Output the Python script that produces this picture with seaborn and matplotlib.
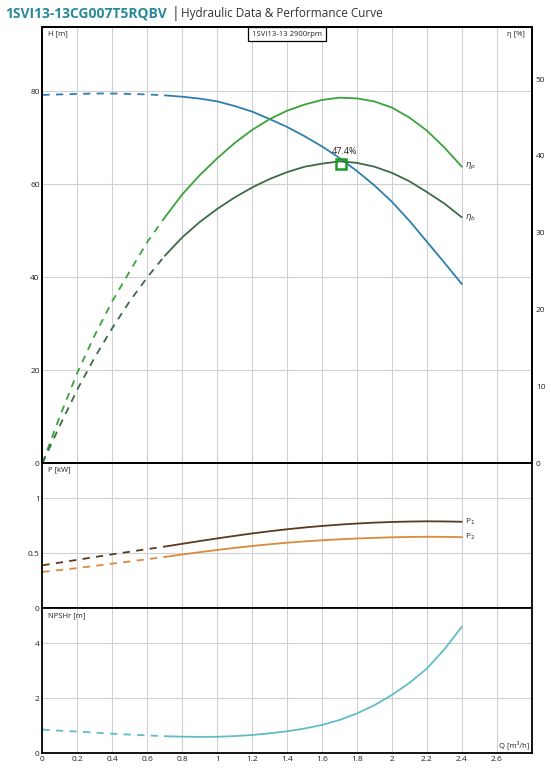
import numpy as np
import pandas as pd
import seaborn as sns
import matplotlib.pyplot as plt

# flow grid (m3/h), the curve is dashed below Q_SPLIT
Q = [0, 0.1, 0.2, 0.3, 0.4, 0.5, 0.6, 0.7, 0.8, 0.9, 1.0, 1.1, 1.2,
     1.3, 1.4, 1.5, 1.6, 1.7, 1.8, 1.9, 2.0, 2.1, 2.2, 2.3, 2.4]
Q_SPLIT = 0.7

head = [79.2, 79.3, 79.4, 79.5, 79.5, 79.4, 79.3, 79.1, 78.8, 78.4, 77.8, 76.8, 75.6,
        74.0, 72.3, 70.3, 68.1, 65.6, 62.8, 59.7, 56.2, 52.1, 47.6, 43.1, 38.5]
eta_p = [0, 6.1, 11.8, 16.7, 21.1, 25.0, 28.8, 32.0, 35.0, 37.5, 39.7, 41.7, 43.4,
         44.8, 45.9, 46.7, 47.3, 47.6, 47.5, 47.1, 46.3, 45.0, 43.3, 41.1, 38.6]
eta_b = [0, 4.9, 9.6, 13.8, 17.6, 21.1, 24.2, 27.0, 29.4, 31.4, 33.1, 34.6, 35.9,
         37.0, 37.9, 38.6, 39.0, 39.3, 39.1, 38.6, 37.8, 36.7, 35.3, 33.8, 32.0]
p1 = [0.39, 0.415, 0.44, 0.465, 0.49, 0.513, 0.537, 0.56, 0.585, 0.61, 0.634, 0.657, 0.679,
      0.699, 0.717, 0.733, 0.747, 0.759, 0.769, 0.777, 0.783, 0.787, 0.789, 0.788, 0.785]
p2 = [0.33, 0.347, 0.365, 0.385, 0.405, 0.425, 0.445, 0.466, 0.488, 0.509, 0.529, 0.548, 0.565,
      0.581, 0.595, 0.607, 0.617, 0.626, 0.633, 0.639, 0.644, 0.647, 0.649, 0.648, 0.645]
npsh = [0.86, 0.82, 0.79, 0.75, 0.71, 0.68, 0.65, 0.62, 0.605, 0.595, 0.60, 0.625, 0.665,
        0.725, 0.80, 0.90, 1.03, 1.21, 1.45, 1.75, 2.12, 2.56, 3.08, 3.78, 4.6]

bep_q, bep_eta, bep_label = 1.71, 39.0, '47.4%'

x_ticks = [0, 0.2, 0.4, 0.6, 0.8, 1, 1.2, 1.4, 1.6, 1.8, 2, 2.2, 2.4, 2.6]
h_ticks = [0, 20, 40, 60, 80]
eta_ticks = [0, 10, 20, 30, 40, 50]
p_ticks = [0, 0.5, 1]
npsh_ticks = [0, 2, 4]

C_H = '#2f7fae'
C_EP = '#3ca23c'
C_EB = '#3d6b45'
C_P1 = '#5b3a1e'
C_P2 = '#d98a3d'
C_N = '#62bcc6'
C_GRID = '#d0d0d0'

sns.set_theme(style='white')
plt.rcParams['font.family'] = ['Open Sans', 'DejaVu Sans']


def split_curve(ax, y, color):
    d = pd.DataFrame({'Q': Q, 'y': y})
    dash = d[d.Q <= Q_SPLIT]
    solid = d[d.Q >= Q_SPLIT]
    sns.lineplot(data=dash, x='Q', y='y', ax=ax, color=color, lw=1.3,
                 linestyle=(0, (4, 3.5)), sort=False, estimator=None)
    sns.lineplot(data=solid, x='Q', y='y', ax=ax, color=color, lw=1.3,
                 sort=False, estimator=None)


def style_panel(ax, yticks, ylim):
    ax.set_xlim(0, 2.8)
    ax.set_ylim(*ylim)
    ax.set_yticks(yticks)
    ax.set_yticklabels([('%g' % t) for t in yticks], fontsize=6, color='#222222')
    ax.set_xticks(x_ticks)
    ax.grid(True, color=C_GRID, lw=0.8)
    ax.set_axisbelow(True)
    for s in ax.spines.values():
        s.set_color('black')
        s.set_linewidth(1.3)
    ax.tick_params(length=0, pad=2)
    ax.set_xlabel('')
    ax.set_ylabel('')


fig = plt.figure(figsize=(5.51, 7.70), dpi=100)
L, W = 0.0771, 0.888
ax1 = fig.add_axes([L, 0.3987, W, 0.5662])
ax2 = fig.add_axes([L, 0.2100, W, 0.1887])
ax3 = fig.add_axes([L, 0.0217, W, 0.1883])

# head / efficiency panel
split_curve(ax1, head, C_H)
style_panel(ax1, h_ticks, (0, 93.8))
ax1.set_xticklabels([])
ax1r = ax1.twinx()
split_curve(ax1r, eta_p, C_EP)
split_curve(ax1r, eta_b, C_EB)
ax1r.set_ylim(0, 56.8)
ax1r.set_yticks(eta_ticks)
ax1r.set_yticklabels([str(t) for t in eta_ticks], fontsize=6, color='#222222')
ax1r.tick_params(length=0, pad=3)
ax1r.grid(False)
ax1r.set_ylabel('')
for s in ax1r.spines.values():
    s.set_color('black')
    s.set_linewidth(1.3)
ax1r.plot([bep_q], [bep_eta], marker='s', ms=6.5, mfc='none', mec='#1f9a2a', mew=1.8)
ax1r.text(bep_q + 0.02, bep_eta + 1.0, bep_label, fontsize=6.5, ha='center', va='bottom', color='#222222')
ax1r.text(2.42, eta_p[-1], r'$\eta_p$', fontsize=6, ha='left', va='center', color='#333333')
ax1r.text(2.42, eta_b[-1], r'$\eta_b$', fontsize=6, ha='left', va='center', color='#333333')
ax1.text(0.012, 0.992, 'H [m]', transform=ax1.transAxes, fontsize=5.5, ha='left', va='top', color='#222222')
ax1.text(0.985, 0.992, 'η [%]', transform=ax1.transAxes, fontsize=5.5, ha='right', va='top', color='#222222')
ax1.text(0.5, 0.992, '1SVI13-13 2900rpm', transform=ax1.transAxes, fontsize=5.5, ha='center', va='top',
         color='#222222', bbox=dict(boxstyle='square,pad=0.5', fc='white', ec='black', lw=0.9))

# power panel
split_curve(ax2, p1, C_P1)
split_curve(ax2, p2, C_P2)
style_panel(ax2, p_ticks, (0, 1.318))
ax2.set_yticklabels(['0', '0.5', '1'], fontsize=6, color='#222222')
ax2.set_xticklabels([])
ax2.text(2.42, p1[-1], r'P$_1$', fontsize=6, ha='left', va='center', color='#333333')
ax2.text(2.42, p2[-1], r'P$_2$', fontsize=6, ha='left', va='center', color='#333333')
ax2.text(0.012, 0.975, 'P [kW]', transform=ax2.transAxes, fontsize=5.5, ha='left', va='top', color='#222222')

# NPSH panel
split_curve(ax3, npsh, C_N)
style_panel(ax3, npsh_ticks, (0, 5.27))
ax3.set_xticklabels([('%g' % t) for t in x_ticks], fontsize=6, color='#222222')
ax3.text(0.012, 0.975, 'NPSHr [m]', transform=ax3.transAxes, fontsize=5.5, ha='left', va='top', color='#222222')
ax3.text(0.995, 0.025, 'Q [m³/h]', transform=ax3.transAxes, fontsize=5.5, ha='right', va='bottom', color='#222222')

# header
fig.text(0.009, 0.983, '1SVI13-13CG007T5RQBV', fontsize=10, fontweight='bold', color='#2b8a9a',
         ha='left', va='center')
fig.text(0.312, 0.983, '|', fontsize=10, color='#333333', ha='left', va='center')
fig.text(0.328, 0.983, 'Hydraulic Data & Performance Curve', fontsize=8.5, color='#333333',
         ha='left', va='center')

fig.savefig('out.png', dpi=100)
